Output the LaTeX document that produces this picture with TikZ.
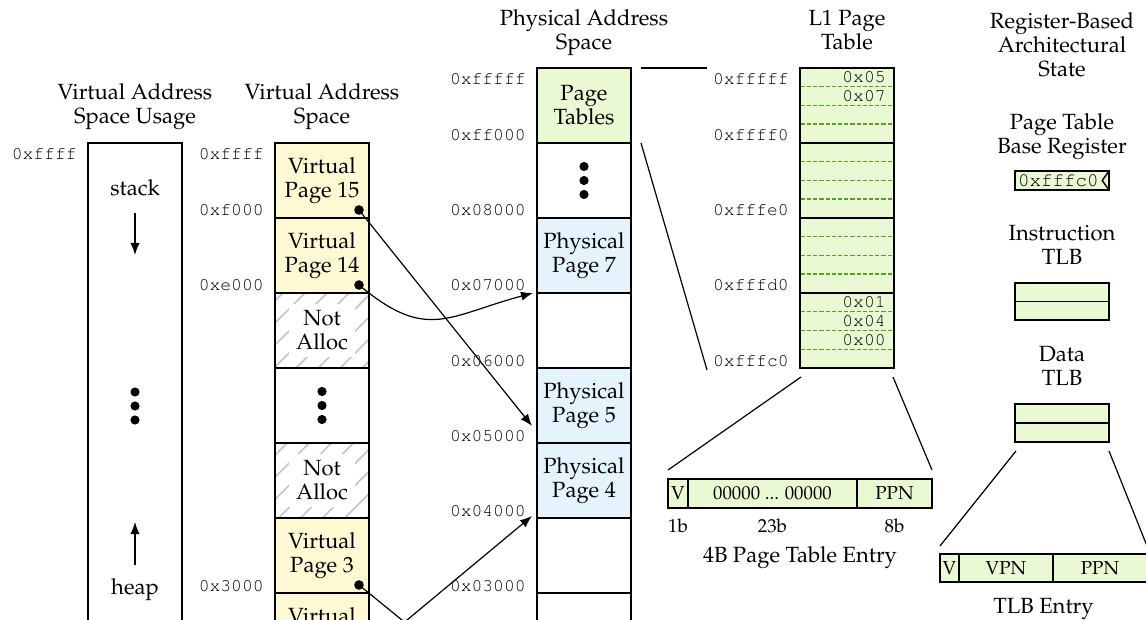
\documentclass[tikz,border=0pt]{standalone}
\usepackage[T1]{fontenc}
\usepackage{mathpazo}
\usepackage{courier}
\usepackage{tikz}
\usetikzlibrary{arrows.meta, positioning, calc, patterns.meta}
\definecolor{vpyellow}{HTML}{FFF9D4}
\definecolor{ppblue}{HTML}{E5F3FD}
\definecolor{ptgreen}{HTML}{E9F9D3}
\definecolor{ptdash}{HTML}{5E9E1E}
\definecolor{hatchgray}{HTML}{C4C4C4}

\tikzset{
  cell/.style={draw, line width=0.7pt, minimum width=47pt, minimum height=37.5pt,
    inner sep=0pt, outer sep=0pt, align=center},
  vpage/.style={cell, fill=vpyellow},
  ppage/.style={cell, fill=ppblue},
  emptycell/.style={cell, fill=white},
  tblcell/.style={cell, fill=ptgreen},
  unalloc/.style={cell, pattern={Lines[angle=45, distance=7.8pt, line width=0.8pt]},
    pattern color=hatchgray},
  fieldcell/.style={tblcell, minimum height=14.5pt, font=\fontsize{9.4}{11}\selectfont},
  coltitle/.style={align=center, inner sep=0pt},
  addr/.style={font=\fontsize{9}{10}\selectfont\ttfamily, inner sep=0pt},
  bigdot/.style={circle, fill, inner sep=0pt, minimum size=4.8pt},
  map/.style={-{Latex[length=6pt, width=4.6pt]}, line width=0.6pt},
  zoomline/.style={line width=0.6pt},
}

\begin{document}
\begin{tikzpicture}[x=1pt, y=1pt, font=\fontsize{11}{12}\selectfont]
  \useasboundingbox (0,0) rectangle (573,-310);
  \clip (0,0) rectangle (573,-310);

  % virtual address space usage
  \node[cell, minimum height=300pt, anchor=north west] (vu) at (44,-71.5) {};
  \node[coltitle, above=6pt of vu] (vutitle) {Virtual Address\\Space Usage\strut};
  \node[addr, anchor=north east] (vutop) at ($(vu.north west)+(-5.5,-2.5)$) {0xffff};
  \node (stk) at ($(vu.north)+(0,-22.5)$) {stack};
  \coordinate (stktail) at ($(vu.north)+(0,-35)$);
  \coordinate (stkhead) at ($(vu.north)+(0,-56)$);
  \draw[map] (stktail) -- (stkhead);
  \foreach \dy in {-124.5,-131.5,-138.5}
    \fill ($(vu.north)+(0,\dy)$) circle (2.3pt);
  \node (hp) at ($(vu.north)+(0,-223.5)$) {heap};
  \coordinate (hptail) at ($(vu.north)+(0,-211)$);
  \coordinate (hphead) at ($(vu.north)+(0,-189.5)$);
  \draw[map] (hptail) -- (hphead);

  % virtual address space
  \node[vpage, anchor=north west] (v15) at (137.5,-71.5) {Virtual\\Page 15};
  \node[vpage, below=0pt of v15] (v14) {Virtual\\Page 14};
  \node[unalloc, below=0pt of v14] (na1) {};
  \node[emptycell, below=0pt of na1] (vgap) {};
  \node[unalloc, below=0pt of vgap] (na2) {};
  \node[vpage, below=0pt of na2] (v3) {Virtual\\Page 3};
  \node[vpage, below=0pt of v3] (v2) {Virtual\\Page 2};
  \node[fill=white, inner sep=3.5pt, align=center] (na1lbl) at (na1) {Not\\Alloc};
  \node[fill=white, inner sep=3.5pt, align=center] (na2lbl) at (na2) {Not\\Alloc};
  \foreach \dy in {-7,0,7}
    \fill ($(vgap.center)+(0,\dy)$) circle (2.3pt);
  \node[coltitle, above=6pt of v15] (vtitle) {Virtual Address\\Space\strut};
  \node[addr, anchor=north east] (vtop) at ($(v15.north west)+(-5.5,-2.5)$) {0xffff};
  \foreach \cellname/\addrtext in {v15/0xf000, v14/0xe000, v3/0x3000}
    \node[addr, anchor=base east] (\cellname-lbl) at ($(\cellname.south west)+(-5.5,1)$) {\addrtext};
  \foreach \cellname in {v15, v14, v3, v2}
    \node[bigdot] (\cellname-dot) at ($(\cellname.south east)+(-5,4)$) {};

  % physical address space
  \node[tblcell, anchor=north west] (ptab) at (268.5,-34) {Page\\Tables};
  \node[emptycell, below=0pt of ptab] (pgap) {};
  \node[ppage, below=0pt of pgap] (p7) {Physical\\Page 7};
  \node[emptycell, below=0pt of p7] (p6) {};
  \node[ppage, below=0pt of p6] (p5) {Physical\\Page 5};
  \node[ppage, below=0pt of p5] (p4) {Physical\\Page 4};
  \node[emptycell, below=0pt of p4] (p3) {};
  \node[emptycell, below=0pt of p3] (p2) {};
  \node[emptycell, below=0pt of p2] (p1) {};
  \foreach \dy in {-7,0,7}
    \fill ($(pgap.center)+(0,\dy)$) circle (2.3pt);
  \node[coltitle, above=5.5pt of ptab] (ptitle) {Physical Address\\Space\strut};
  \node[addr, anchor=north east] (ptop) at ($(ptab.north west)+(-5.5,-2.5)$) {0xfffff};
  \foreach \cellname/\addrtext in {ptab/0xff000, pgap/0x08000, p7/0x07000, p6/0x06000,
      p5/0x05000, p4/0x04000, p3/0x03000}
    \node[addr, anchor=base east] (\cellname-lbl) at ($(\cellname.south west)+(-5.5,1)$) {\addrtext};

  % L1 page table
  \node[tblcell, minimum height=150pt, anchor=north west] (l1) at (400,-34) {};
  \foreach \k in {1,2,3,5,6,7,9,10,11,13,14,15}
    \draw[ptdash, line width=0.75pt, dash pattern=on 2.1pt off 1pt]
      ($(l1.north west)+(0.4,-9.375*\k)$) -- ($(l1.north east)+(-0.4,-9.375*\k)$);
  \foreach \k in {4,8,12}
    \draw[line width=0.7pt] ($(l1.north west)+(0,-9.375*\k)$) -- ($(l1.north east)+(0,-9.375*\k)$);
  \foreach \k/\ppn in {1/0x05, 2/0x07, 13/0x01, 14/0x04, 15/0x00}
    \node[addr, anchor=east] (pte-\k) at ($(l1.north east)+(-4,-9.375*\k+4.7)$) {\ppn};
  \node[coltitle, above=5.5pt of l1] (l1title) {L1 Page\\Table\strut};
  \node[addr, anchor=north east] (l1top) at ($(l1.north west)+(-5.5,-2.5)$) {0xfffff};
  \foreach \s/\addrtext in {1/0xffff0, 2/0xfffe0, 3/0xfffd0, 4/0xfffc0}
    \node[addr, anchor=base east] (l1-lbl\s) at ($(l1.north west)+(-5.5,-37.5*\s+1)$) {\addrtext};

  % zoom from page tables into L1
  \coordinate (ptzoomA) at ($(ptab.north east)+(5,0)$);
  \coordinate (l1zoomA) at ($(l1.north west)+(-46.5,0)$);
  \coordinate (ptzoomB) at ($(ptab.south east)+(5,0)$);
  \coordinate (l1zoomB) at ($(l1.south west)+(-46.5,-1)$);
  \draw[zoomline] (ptzoomA) -- (l1zoomA);
  \draw[zoomline] (ptzoomB) -- (l1zoomB);

  % page table entry
  \node[fieldcell, minimum width=10pt, anchor=north west] (ptev) at (334,-239.5) {V};
  \node[fieldcell, minimum width=84.5pt, right=0pt of ptev] (ptez) {00000 ... 00000};
  \node[fieldcell, minimum width=37.5pt, right=0pt of ptez] (ptep) {PPN};
  \foreach \cellname/\bits in {ptev/1b, ptez/23b, ptep/8b}
    \node[inner sep=0pt, font=\fontsize{9.4}{11}\selectfont, below=5pt of \cellname] (\cellname-bits) {\bits};
  \node[anchor=base] (ptename) at ($(ptev.south west)!0.5!(ptep.south east)+(0,-27)$) {4B Page Table Entry};
  \coordinate (l1zoomC) at ($(l1.south west)+(0.5,-4.5)$);
  \coordinate (ptezoomC) at ($(ptev.north west)+(0,4.5)$);
  \coordinate (l1zoomD) at ($(l1.south east)+(-0.5,-4.5)$);
  \coordinate (ptezoomD) at ($(ptep.north east)+(0,4.5)$);
  \draw[zoomline] (l1zoomC) -- (ptezoomC);
  \draw[zoomline] (l1zoomD) -- (ptezoomD);

  % register-based architectural state
  \node[coltitle, anchor=north] (rtitle) at (531,-6) {Register-Based\\Architectural\\State};
  \node[tblcell, minimum height=9.5pt, text width=44pt, inner xsep=1.5pt, align=left,
    font=\fontsize{9.6}{10}\selectfont\ttfamily, anchor=north west] (ptbr) at (507.5,-85.5) {0xfffc0};
  \draw[line width=0.7pt] (ptbr.north east) -- ++(-3.4,-4.75) -- (ptbr.south east);
  \node[coltitle, above=5pt of ptbr] (ptbrtitle) {Page Table\\Base Register\strut};
  \node[tblcell, minimum height=9.25pt, anchor=north west] (itlb0) at (507.5,-141.5) {};
  \node[tblcell, minimum height=9.25pt, below=0pt of itlb0] (itlb1) {};
  \node[coltitle, above=5.5pt of itlb0] (itlbtitle) {Instruction\\TLB\strut};
  \node[tblcell, minimum height=9.5pt, anchor=north west] (dtlb0) at (507.5,-202) {};
  \node[tblcell, minimum height=9.5pt, below=0pt of dtlb0] (dtlb1) {};
  \node[coltitle, above=5.5pt of dtlb0] (dtlbtitle) {Data\\TLB\strut};

  % TLB entry
  \node[fieldcell, minimum width=9.5pt, minimum height=14pt, anchor=north west] (tlbv) at (470,-277) {V};
  \node[fieldcell, minimum width=47pt, minimum height=14pt, right=0pt of tlbv] (tlbvpn) {VPN};
  \node[fieldcell, minimum width=47pt, minimum height=14pt, right=0pt of tlbvpn] (tlbppn) {PPN};
  \node[anchor=base] (tlbname) at ($(tlbv.south west)!0.5!(tlbppn.south east)+(0,-15.5)$) {TLB Entry};
  \coordinate (dtlbzoomA) at ($(dtlb1.south west)+(0.5,-4.5)$);
  \coordinate (tlbzoomA) at ($(tlbv.north west)+(0,4)$);
  \coordinate (dtlbzoomB) at ($(dtlb1.south east)+(0,-4.5)$);
  \coordinate (tlbzoomB) at ($(tlbppn.north east)+(0,4)$);
  \draw[zoomline] (dtlbzoomA) -- (tlbzoomA);
  \draw[zoomline] (dtlbzoomB) -- (tlbzoomB);

  % virtual to physical mappings
  \coordinate (p7in) at ($(p7.south west)+(-2,0)$);
  \coordinate (p5in) at ($(p5.south west)+(-2.5,8.5)$);
  \coordinate (p4in) at ($(p4.south west)+(-2.5,1)$);
  \coordinate (p1in) at ($(p1.south west)+(-2.5,8.5)$);
  \draw[map] (v15-dot.center) -- (p5in);
  \draw[map] (v14-dot.center) to[out=-40, in=195, looseness=1.3] (p7in);
  \draw[map] (v3-dot.center) -- (p1in);
  \draw[map] (v2-dot.center) -- (p4in);
\end{tikzpicture}
\end{document}
